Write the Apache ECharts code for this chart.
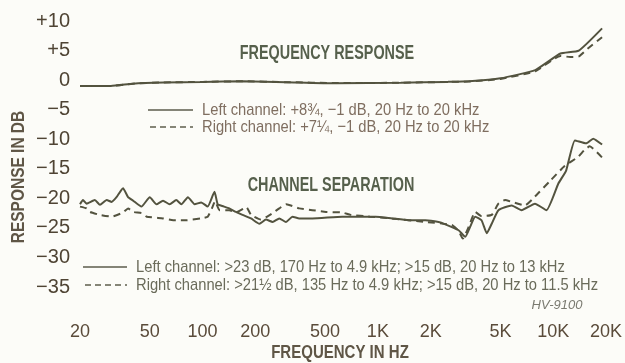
<!DOCTYPE html>
<html>
<head>
<meta charset="utf-8">
<script src="https://cdn.jsdelivr.net/npm/echarts@6/dist/echarts.min.js"></script>
<style>
  html, body { margin: 0; padding: 0; background: #fcfcf8; }
  #chart { width: 625px; height: 363px; }
</style>
</head>
<body>
<div id="chart"></div>
<script>
// Frequency axis ticks (Hz) and their printed labels
const xTicks = [20, 50, 100, 200, 500, 1000, 2000, 5000, 10000, 20000];
const xTickLabels = ['20', '50', '100', '200', '500', '1K', '2K', '5K', '10K', '20K'];
// Response axis ticks (dB)
const yTicks = [10, 5, 0, -5, -10, -15, -20, -25, -30, -35];

// Frequency response, [Hz, dB]
const respLeft = [
  [20, -1.0], [30, -1.0], [40, -0.6], [60, -0.4], [100, -0.3], [170, -0.2],
  [300, -0.35], [575, -0.55], [1350, -0.45], [2500, -0.3], [3300, -0.2],
  [5000, 0.3], [7900, 1.7], [11000, 4.5], [14000, 5.0], [19000, 8.75]
];
const respRight = [
  [20, -1.0], [30, -1.0], [40, -0.6], [60, -0.4], [100, -0.3], [170, -0.2],
  [300, -0.35], [575, -0.5], [1350, -0.45], [2500, -0.3], [3300, -0.25],
  [5000, 0.2], [7900, 1.5], [11000, 4.1], [12500, 3.9], [14000, 4.0],
  [15700, 5.3], [19000, 7.25]
];

// Channel separation, [Hz, dB]
const sepLeft = [
  [20, -21.0], [20.8, -20.3], [21.8, -20.9], [24.3, -20.3], [26, -21.1],
  [28.4, -20.3], [30.3, -20.6], [32.3, -19.8], [35.2, -18.3], [37.6, -19.8],
  [40.2, -20.4], [44.8, -21.4], [50, -19.8], [54.6, -21.0], [59.5, -20.4],
  [64.9, -21.0], [70.8, -20.3], [75.7, -21.0], [82.5, -19.8], [90, -21.0],
  [98.3, -20.7], [107, -21.4], [117, -18.9], [122, -21.0], [130, -21.3],
  [142, -21.7], [155, -22.3], [169, -22.8], [189, -23.4], [211, -24.3],
  [230, -23.6], [251, -24.0], [274, -23.4], [299, -24.0], [326, -23.1],
  [356, -23.4], [423, -23.4], [627, -23.1], [780, -23.1], [970, -23.1],
  [1205, -23.4], [1500, -23.7], [1866, -23.7], [2220, -24.0], [2425, -24.4],
  [2885, -25.4], [3150, -26.5], [3360, -24.8], [3590, -23.1], [3900, -23.7],
  [4180, -25.9], [4460, -24.3], [4870, -22.0], [5800, -21.2], [6600, -22.0],
  [7870, -20.9], [9160, -22.0], [10700, -17.5], [11850, -15.3], [13300, -10.2],
  [15400, -10.7], [16900, -9.9], [19000, -10.9]
];
const sepRight = [
  [20, -21.4], [21.8, -21.7], [22.8, -22.3], [26, -22.8], [30.3, -23.1],
  [35.2, -22.4], [37.6, -21.7], [40.2, -22.3], [45, -22.5], [48, -23.1],
  [59.5, -23.4], [68, -23.7], [81, -23.7], [98, -23.4], [107, -23.1],
  [113, -21.7], [118, -20.5], [125, -22.0], [142, -22.0], [155, -22.4],
  [178, -21.5], [189, -22.8], [215, -23.6], [230, -23.2], [251, -22.5],
  [274, -21.7], [300, -21.0], [356, -21.7], [423, -22.0], [506, -22.3],
  [627, -22.4], [700, -22.8], [900, -23.1], [1205, -23.4], [1866, -24.0],
  [2640, -24.5], [2885, -25.5], [3050, -26.8], [3300, -24.8], [3590, -22.3],
  [3900, -23.0], [4460, -22.8], [4870, -20.9], [5310, -20.3], [5800, -20.6],
  [6900, -21.2], [7870, -19.7], [9500, -17.2], [11650, -14.5], [13870, -13.0],
  [15100, -11.8], [16150, -11.2], [19000, -13.1]
];

const LINE = '#53533f';
const SANS = '"Liberation Sans", Arial, sans-serif';
const dash = [7, 5];

function fmtY(v) {
  if (v > 0) return '+' + v;
  if (v < 0) return '\u2212' + Math.abs(v);
  return '0';
}
function fmtX(v) {
  const i = xTicks.findIndex(t => Math.abs(t - v) / t < 1e-6);
  return i >= 0 ? xTickLabels[i] : '';
}

function lineSeries(data, dashed) {
  return {
    type: 'line',
    data: data,
    showSymbol: false,
    smooth: 0.15,
    lineStyle: { color: LINE, width: 2, type: dashed ? dash : 'solid' },
    silent: true,
    animation: false
  };
}

// Condensed-looking caption: a normal sans face squeezed horizontally
function caption(text, x, y, font, fill, squeeze, align, rotation) {
  return {
    type: 'text', x: x, y: y, scaleX: squeeze, rotation: rotation || 0,
    style: { text: text, font: font, fill: fill,
             textAlign: align || 'center', textVerticalAlign: 'middle' }
  };
}

function legendRow(x1, x2, y, dashed, text, color) {
  return [
    { type: 'line', shape: { x1: x1, y1: y, x2: x2, y2: y },
      style: { stroke: '#5d5d4c', lineWidth: 1.5, lineDash: dashed ? [6, 4] : null } },
    caption(text, x2 + 9, y, '17px ' + SANS, color, 0.866, 'left')
  ];
}

const chart = echarts.init(document.getElementById('chart'), null, { renderer: 'canvas' });

const graphics = [
  caption('FREQUENCY RESPONSE', 327, 53, 'bold 20px ' + SANS, '#56604c', 0.72),
  caption('CHANNEL SEPARATION', 331, 185, 'bold 20px ' + SANS, '#56604c', 0.72),
  caption('RESPONSE IN DB', 19, 177, 'bold 18px ' + SANS, '#5f5646', 0.86, 'center', Math.PI / 2),
  caption('FREQUENCY IN HZ', 340, 353, 'bold 19px ' + SANS, '#5f5646', 0.79),
  caption('HV-9100', 557, 305, 'italic 13px ' + SANS, '#7a7a70', 1)
]
  .concat(legendRow(148, 193, 110, false, 'Left channel: +8\u00be, \u22121 dB, 20 Hz to 20 kHz', '#7f6e60'))
  .concat(legendRow(150, 193, 127, true, 'Right channel: +7\u00bc, \u22121 dB, 20 Hz to 20 kHz', '#7f6e60'))
  .concat(legendRow(83, 127, 267, false, 'Left channel: >23 dB, 170 Hz to 4.9 kHz; >15 dB, 20 Hz to 13 kHz', '#6a6b5a'))
  .concat(legendRow(85, 127, 285, true, 'Right channel: >21\u00bd dB, 135 Hz to 4.9 kHz; >15 dB, 20 Hz to 11.5 kHz', '#6a6b5a'));

chart.setOption({
  backgroundColor: '#fcfcf8',
  animation: false,
  grid: { left: 80, right: 17, top: 21, bottom: 76, containLabel: false },
  xAxis: {
    type: 'log',
    logBase: 10,
    min: 20,
    max: 20000,
    axisLine: { show: false },
    axisTick: { show: false },
    splitLine: { show: false },
    minorTick: { show: false },
    minorSplitLine: { show: false },
    axisLabel: {
      customValues: xTicks,
      formatter: fmtX,
      margin: 36,
      fontFamily: SANS,
      fontSize: 18,
      color: '#5a4b3a'
    }
  },
  yAxis: {
    type: 'value',
    min: -35,
    max: 10,
    interval: 5,
    axisLine: { show: false },
    axisTick: { show: false },
    splitLine: { show: false },
    axisLabel: {
      customValues: yTicks,
      formatter: fmtY,
      margin: 10,
      fontFamily: SANS,
      fontSize: 20,
      color: '#4f4434'
    }
  },
  series: [
    lineSeries(respLeft, false),
    lineSeries(respRight, true),
    lineSeries(sepLeft, false),
    lineSeries(sepRight, true)
  ],
  graphic: graphics
});
</script>
</body>
</html>
